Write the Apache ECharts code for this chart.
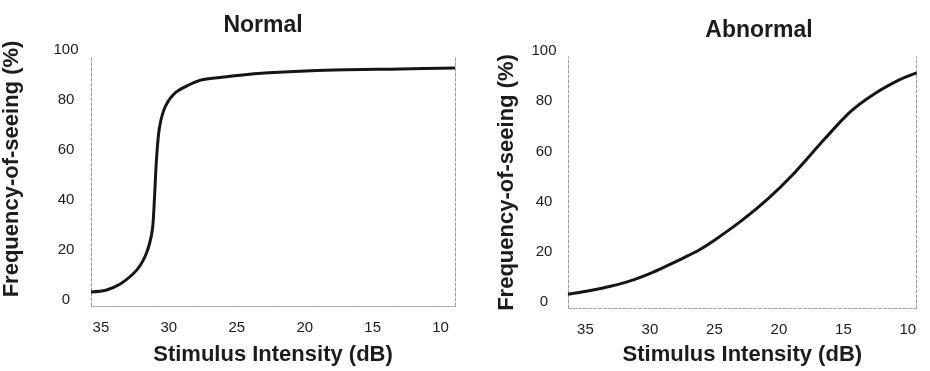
<!DOCTYPE html>
<html>
<head>
<meta charset="utf-8">
<title>Frequency-of-seeing curves</title>
<script src="https://cdn.jsdelivr.net/npm/echarts@6/dist/echarts.min.js"></script>
<style>
  html, body { margin: 0; padding: 0; background: #fff; }
  #chart { width: 930px; height: 371px; }
</style>
</head>
<body>
<div id="chart"></div>
<script>
// Stimulus intensity (dB) and frequency-of-seeing (%) for each panel
const normalDb  = [35.73, 34.64, 33.61, 32.66, 32.15, 31.72, 31.42, 31.2, 31.06, 30.91, 30.69, 30.26, 29.53, 28.5, 27.55, 25.15, 22.66, 17.85, 12.96, 8.94];
const normalPct = [5.6, 6.3, 8.7, 12.7, 15.9, 20.2, 25.0, 31.0, 42.9, 58.7, 71.4, 79.8, 85.3, 88.5, 90.5, 92.1, 93.3, 94.4, 94.8, 95.2];

const abnormalDb  = [36.35, 34.92, 33.72, 32.45, 31.17, 29.97, 28.69, 27.42, 26.22, 24.94, 22.84, 20.81, 18.93, 16.46, 14.43, 12.7, 10.67, 9.32];
const abnormalPct = [5.5, 6.7, 7.9, 9.4, 11.4, 13.8, 16.8, 19.9, 23.0, 27.2, 35.0, 43.7, 53.1, 67.3, 78.3, 85.0, 90.9, 93.7];

const xTicks = [35, 30, 25, 20, 15, 10];
const yTicks = [0, 20, 40, 60, 80, 100];

const panelTitles = ['Normal', 'Abnormal'];
const xName = 'Stimulus Intensity (dB)';
const yName = 'Frequency-of-seeing (%)';

const FONT = '"Liberation Sans", Arial, Helvetica, sans-serif';
const INK = '#1c1c1c';

const panels = [
  { db: normalDb, pct: normalPct, xMin: 8.94, xMax: 35.73,
    grid: { left: 88, top: 56, width: 367, height: 252 },
    yGap: 68, yNamePad: 24, xGap: 38, yLabelMargin: 25,
    title: { left: 258, top: 9 } },
  { db: abnormalDb, pct: abnormalPct, xMin: 9.32, xMax: 36.35,
    grid: { left: 568, top: 57, width: 360, height: 254 },
    yGap: 50, yNamePad: 0, xGap: 36, yLabelMargin: 24,
    title: { left: 754, top: 14 } }
];

const toPairs = (xs, ys) => xs.map((x, i) => [x, ys[i]]);

const dashed = (color) => ({ show: true, lineStyle: { color: color, width: 1, type: [3, 2] } });

const option = {
  animation: false,
  backgroundColor: '#ffffff',
  title: panels.map((p, i) => ({
    text: panelTitles[i],
    left: p.title.left,
    top: p.title.top,
    textAlign: 'center',
    textStyle: { fontFamily: FONT, fontSize: 23, fontWeight: 'bold', color: INK }
  })),
  grid: panels.map(p => Object.assign({ containLabel: false }, p.grid)),
  xAxis: [],
  yAxis: [],
  series: []
};

panels.forEach((p, i) => {
  // bottom axis with labels and name
  option.xAxis.push({
    type: 'value', gridIndex: i, inverse: true, min: p.xMin, max: p.xMax,
    axisLine: dashed('#777'),
    axisTick: { show: false },
    splitLine: { show: false },
    axisLabel: { customValues: xTicks, margin: 14, fontFamily: FONT, fontSize: 15, color: INK },
    name: xName, nameLocation: 'middle', nameGap: p.xGap,
    nameTextStyle: { fontFamily: FONT, fontSize: 22, fontWeight: 'bold', color: INK }
  });
  // top border
  option.xAxis.push({
    type: 'value', gridIndex: i, position: 'top', inverse: true, min: p.xMin, max: p.xMax,
    axisLine: dashed('#a8a8a8'), axisTick: { show: false }, axisLabel: { show: false },
    splitLine: { show: false }
  });
  // left axis with labels and name
  option.yAxis.push({
    type: 'value', gridIndex: i, min: 0, max: 100, interval: 20,
    axisLine: dashed('#999'),
    axisTick: { show: false },
    splitLine: { show: false },
    axisLabel: { customValues: yTicks, margin: p.yLabelMargin, align: 'center',
      verticalAlign: 'bottom', lineHeight: 12,
      fontFamily: FONT, fontSize: 15, color: INK },
    name: yName, nameLocation: 'middle', nameGap: p.yGap, nameRotate: 90,
    nameTextStyle: { fontFamily: FONT, fontSize: 22, fontWeight: 'bold', color: INK,
      padding: [0, 0, 0, p.yNamePad] }
  });
  // right border
  option.yAxis.push({
    type: 'value', gridIndex: i, position: 'right', min: 0, max: 100,
    axisLine: dashed('#999'), axisTick: { show: false }, axisLabel: { show: false },
    splitLine: { show: false }
  });
  option.series.push({
    type: 'line', xAxisIndex: i * 2, yAxisIndex: i * 2,
    data: toPairs(p.db, p.pct),
    smooth: 0.3,
    showSymbol: false, symbol: 'none',
    lineStyle: { color: '#151515', width: 3 }
  });
});

const chart = echarts.init(document.getElementById('chart'), null, { renderer: 'canvas' });
chart.setOption(option);
</script>
</body>
</html>
